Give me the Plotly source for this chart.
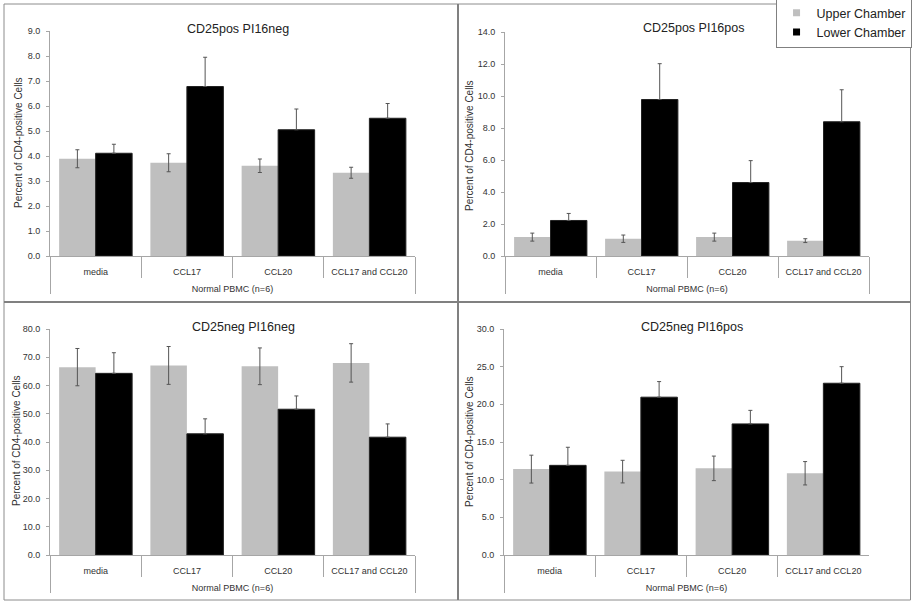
import plotly.graph_objects as go

W, H = 912, 603

categories = ["media", "CCL17", "CCL20", "CCL17 and CCL20"]
group_label = "Normal PBMC (n=6)"
series_names = ["Upper Chamber", "Lower Chamber"]
panel_titles = ["CD25pos PI16neg", "CD25pos PI16pos", "CD25neg PI16neg", "CD25neg PI16pos"]
y_title = "Percent of CD4-positive Cells"

# Panel 1: CD25pos PI16neg
p1_upper = [3.89, 3.73, 3.61, 3.33]
p1_upper_err = [0.36, 0.36, 0.27, 0.22]
p1_lower = [4.11, 6.78, 5.05, 5.51]
p1_lower_err = [0.36, 1.17, 0.83, 0.59]
# Panel 2: CD25pos PI16pos
p2_upper = [1.18, 1.08, 1.18, 0.96]
p2_upper_err = [0.25, 0.23, 0.25, 0.12]
p2_lower = [2.22, 9.78, 4.59, 8.39]
p2_lower_err = [0.44, 2.24, 1.37, 2.0]
# Panel 3: CD25neg PI16neg
p3_upper = [66.5, 67.1, 66.8, 68.0]
p3_upper_err = [6.6, 6.7, 6.5, 6.8]
p3_lower = [64.3, 42.9, 51.6, 41.7]
p3_lower_err = [7.3, 5.3, 4.7, 4.7]
# Panel 4: CD25neg PI16pos
p4_upper = [11.4, 11.07, 11.5, 10.85]
p4_upper_err = [1.85, 1.5, 1.63, 1.55]
p4_lower = [11.9, 20.95, 17.4, 22.8]
p4_lower_err = [2.4, 2.07, 1.8, 2.2]

y_max = [9, 14, 80, 30]
y_dtick = [1, 2, 10, 5]

panels = [
    (p1_upper, p1_upper_err, p1_lower, p1_lower_err),
    (p2_upper, p2_upper_err, p2_lower, p2_lower_err),
    (p3_upper, p3_upper_err, p3_lower, p3_lower_err),
    (p4_upper, p4_upper_err, p4_lower, p4_lower_err),
]

# pixel layout of plot areas: (left, right, top, bottom)
boxes = [(50, 415, 31, 256), (505, 869, 32, 256), (50, 415, 329, 555), (504, 869, 329, 555)]
title_pos = [(238, 29), (693, 28), (243, 327), (692, 327)]
ytitle_pos = [(18, 143), (469, 145), (16, 441), (469, 441)]

def px(x):
    return x / W

def py(y):
    return 1 - y / H

upper_color = "#bfbfbf"
lower_color = "#000000"
axis_color = "#a6a6a6"
text_color = "#333333"
err_color = "#555555"

fig = go.Figure()
xcat = [["<br>" + group_label] * len(categories), categories]

for i, (up, upe, lo, loe) in enumerate(panels):
    xa = "x" if i == 0 else f"x{i+1}"
    ya = "y" if i == 0 else f"y{i+1}"
    fig.add_trace(go.Bar(
        x=xcat, y=up, name=series_names[0], marker=dict(color=upper_color, line=dict(width=0)),
        error_y=dict(type="data", array=upe, visible=True, color=err_color, thickness=1, width=2),
        xaxis=xa, yaxis=ya, showlegend=False, hoverinfo="skip"))
    fig.add_trace(go.Bar(
        x=xcat, y=lo, name=series_names[1], marker=dict(color=lower_color, line=dict(width=1, color="#222")),
        error_y=dict(type="data", array=loe, arrayminus=[0] * len(loe), symmetric=False,
                     visible=True, color=err_color, thickness=1, width=2),
        xaxis=xa, yaxis=ya, showlegend=False, hoverinfo="skip"))

# legend-only traces on a hidden axis
for name, col in zip(series_names, [upper_color, lower_color]):
    fig.add_trace(go.Scatter(x=[None], y=[None], mode="markers", name=name,
                             marker=dict(symbol="square", size=7, color=col),
                             xaxis="x5", yaxis="y5", showlegend=True))

layout = dict(
    width=W, height=H, margin=dict(l=0, r=0, t=0, b=0, pad=0, autoexpand=False),
    paper_bgcolor="white", plot_bgcolor="white",
    barmode="group", bargap=0.2, bargroupgap=0,
    font=dict(family="Liberation Sans, Arial, sans-serif", color=text_color),
    showlegend=True,
    legend=dict(x=0.9995, xanchor="right", y=1 + 3 / H, yanchor="top",
                bgcolor="white", bordercolor="#808080", borderwidth=1,
                font=dict(size=12.5, color="#222"), itemwidth=30,
                tracegroupgap=0),
    xaxis5=dict(visible=False, domain=[0, 0.01], anchor="y5", automargin=False),
    yaxis5=dict(visible=False, domain=[0, 0.01], anchor="x5", automargin=False),
)

annotations = []
shapes = []
for i, (l, r, t, b) in enumerate(boxes):
    n = "" if i == 0 else str(i + 1)
    layout[f"xaxis{n}"] = dict(
        type="multicategory", domain=[px(l), px(r)], anchor=f"y{n}", automargin=False,
        showline=True, linecolor=axis_color, linewidth=1,
        ticks="outside", tickson="boundaries", ticklen=21, tickcolor=axis_color, tickwidth=1,
        showdividers=True, dividercolor=axis_color, dividerwidth=1, ticklabelstandoff=7,
        tickfont=dict(size=9, color=text_color), showgrid=False, fixedrange=True)
    layout[f"yaxis{n}"] = dict(
        domain=[py(b), py(t)], anchor=f"x{n}", range=[0, y_max[i]], dtick=y_dtick[i], automargin=False,
        tickformat=".1f", ticks="outside", ticklen=3, tickcolor=axis_color, ticklabelstandoff=4,
        showline=True, linecolor=axis_color, linewidth=1, showgrid=False, zeroline=False,
        tickfont=dict(size=9, color=text_color), fixedrange=True)
    tx, ty = title_pos[i]
    annotations.append(dict(text=panel_titles[i], x=px(tx), y=py(ty), xref="paper", yref="paper",
                            xanchor="center", yanchor="middle",
                            showarrow=False, font=dict(size=12.5, color="#222")))
    yx, yy = ytitle_pos[i]
    annotations.append(dict(text=y_title, x=px(yx), y=py(yy), xref="paper", yref="paper",
                            xanchor="center", yanchor="middle",
                            showarrow=False, textangle=-90, font=dict(size=10, color=text_color)))

# panel borders
border = "#8c8c8c"
shapes.append(dict(type="rect", xref="paper", yref="paper", x0=px(4), x1=px(910.5), y0=py(600), y1=py(4),
                   line=dict(color=border, width=1)))
shapes.append(dict(type="line", xref="paper", yref="paper", x0=px(458), x1=px(458), y0=py(600), y1=py(4),
                   line=dict(color="#808080", width=2)))
shapes.append(dict(type="line", xref="paper", yref="paper", x0=px(4), x1=px(910.5), y0=py(302), y1=py(302),
                   line=dict(color="#808080", width=2)))

layout["annotations"] = annotations
layout["shapes"] = shapes
fig.update_layout(**layout)
fig.write_html("out.html", config={"displayModeBar": False, "staticPlot": False},
               post_script="document.body.style.margin='0';document.body.style.overflow='hidden';")
